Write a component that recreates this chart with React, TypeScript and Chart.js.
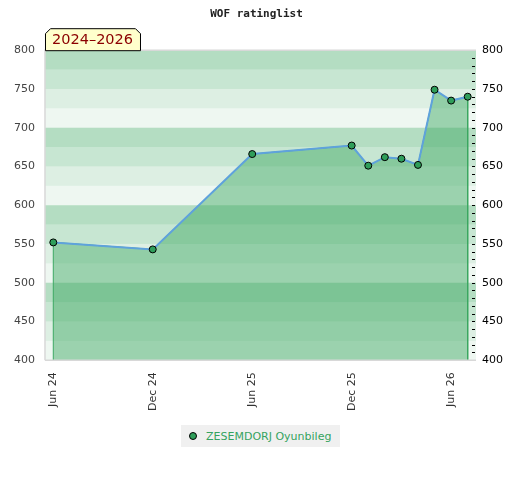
import React, { useEffect, useRef } from "react";
import { Chart, registerables } from "chart.js";

Chart.register(...registerables);

// months counted from Jun 2024 (0)
const months = [0, 6, 12, 18, 19, 20, 21, 22, 23, 24, 25];
const ratings = [552, 543, 666, 677, 651, 662, 660, 652, 749, 735, 740];
const tickMonths = [0, 6, 12, 18, 24];
const tickLabels = ["Jun 24", "Dec 24", "Jun 25", "Dec 25", "Jun 26"];
const playerName = "ZESEMDORJ Oyunbileg";
const chartTitle = "WOF ratinglist";
const periodLabel = "2024–2026";
const yMin = 400;
const yMax = 800;

const bandColors = [
  "rgba(61,167,98,0.39)",
  "rgba(61,167,98,0.285)",
  "rgba(61,167,98,0.175)",
  "rgba(61,167,98,0.088)",
];

const decorPlugin = {
  id: "decor",
  beforeDatasetsDraw(chart: any) {
    const { ctx, chartArea } = chart;
    const y = chart.scales.y;
    ctx.save();
    for (let v = yMax; v > yMin; v -= 25) {
      const idx = ((yMax - v) / 25) % 4;
      const top = y.getPixelForValue(v);
      const bot = y.getPixelForValue(v - 25);
      ctx.fillStyle = bandColors[idx];
      ctx.fillRect(chartArea.left, top, chartArea.right - chartArea.left, bot - top);
    }
    ctx.restore();
  },
  afterDatasetsDraw(chart: any) {
    const { ctx, chartArea } = chart;
    const y = chart.scales.y;
    ctx.save();
    // border
    ctx.strokeStyle = "#d8d8d8";
    ctx.lineWidth = 1.5;
    ctx.beginPath();
    ctx.moveTo(chartArea.left, chartArea.bottom);
    ctx.lineTo(chartArea.left, chartArea.top);
    ctx.lineTo(chartArea.right, chartArea.top);
    ctx.moveTo(chartArea.left, chartArea.bottom);
    ctx.lineTo(chartArea.right, chartArea.bottom);
    ctx.stroke();
    // minor ticks on right edge
    ctx.strokeStyle = "#000";
    ctx.lineWidth = 1;
    for (let v = yMin + 10; v < yMax; v += 10) {
      const py = Math.round(y.getPixelForValue(v)) + 0.5;
      ctx.beginPath();
      ctx.moveTo(chartArea.right - 4, py);
      ctx.lineTo(chartArea.right - 1, py);
      ctx.stroke();
    }
    // period badge
    const l = chartArea.left + 0.5;
    const r = l + 95;
    const b = chartArea.top + 0.5;
    const t = b - 22;
    const c = 5;
    ctx.beginPath();
    ctx.moveTo(l, b);
    ctx.lineTo(l, t + c);
    ctx.lineTo(l + c, t);
    ctx.lineTo(r - c, t);
    ctx.lineTo(r, t + c);
    ctx.lineTo(r, b);
    ctx.closePath();
    ctx.fillStyle = "#ffffcc";
    ctx.fill();
    ctx.strokeStyle = "#000";
    ctx.stroke();
    ctx.fillStyle = "#8b0000";
    ctx.font = "14.5px 'DejaVu Sans'";
    ctx.textBaseline = "middle";
    ctx.textAlign = "left";
    ctx.fillText(periodLabel, l + 6.5, t + 12);
    ctx.restore();
  },
};

export default function App() {
  const ref = useRef<HTMLCanvasElement>(null);
  useEffect(() => {
    const points = months.map((m, i) => ({ x: m, y: ratings[i] }));
    const area = [
      { x: months[0], y: yMin },
      ...points,
      { x: months[months.length - 1], y: yMin },
    ];
    const chart = new Chart(ref.current as HTMLCanvasElement, {
      type: "line",
      data: {
        datasets: [
          {
            label: playerName,
            data: points,
            borderColor: "#5fa2dc",
            borderWidth: 2,
            pointBackgroundColor: "#2f9e5a",
            pointBorderColor: "#000",
            pointBorderWidth: 1,
            pointRadius: 3.5,
            fill: false,
            tension: 0,
            order: 0,
          },
          {
            label: "area",
            data: area,
            borderColor: "#3aa860",
            borderWidth: 1,
            backgroundColor: "rgba(61,167,98,0.47)",
            pointRadius: 0,
            fill: "start",
            tension: 0,
            order: 1,
          },
        ],
      },
      options: {
        animation: false,
        responsive: false,
        maintainAspectRatio: false,
        layout: { padding: { left: 4, right: 11, top: 0, bottom: 57 } },
        plugins: {
          legend: { display: false },
          tooltip: { enabled: false },
          title: {
            display: true,
            text: chartTitle,
            color: "#222",
            font: { family: "'DejaVu Sans Mono'", size: 11, weight: "bold" },
            padding: { top: 8, bottom: 29 },
          },
        },
        scales: {
          x: {
            type: "linear",
            min: -0.5,
            max: 25.5,
            grid: { display: false, drawTicks: false },
            border: { display: false },
            afterBuildTicks: (scale: any) => {
              scale.ticks = tickMonths.map((v) => ({ value: v }));
            },
            ticks: {
              minRotation: 90,
              maxRotation: 90,
              padding: 12,
              color: "#333",
              font: { family: "'DejaVu Sans'", size: 11 },
              callback: (v: any) => {
                const i = tickMonths.indexOf(Number(v));
                return i >= 0 ? tickLabels[i] : "";
              },
            },
          },
          y: {
            position: "left",
            min: yMin,
            max: yMax,
            grid: { display: false, drawTicks: false },
            border: { display: false },
            ticks: {
              stepSize: 50,
              padding: 10,
              color: "#444",
              font: { family: "'DejaVu Sans'", size: 11 },
            },
          },
          y2: {
            position: "right",
            min: yMin,
            max: yMax,
            grid: { display: false, drawTicks: false },
            border: { display: false },
            ticks: {
              stepSize: 50,
              padding: 6,
              color: "#000",
              font: { family: "'DejaVu Sans'", size: 11 },
            },
          },
        },
      },
      plugins: [decorPlugin],
    });
    return () => chart.destroy();
  }, []);

  return (
    <div style={{ position: "absolute", left: 0, top: 0, width: 520, height: 480 }}>
      <canvas ref={ref} width={520} height={480} style={{ width: 520, height: 480 }} />
      <div
        style={{
          position: "absolute",
          left: 181,
          top: 425,
          width: 159,
          height: 22,
          background: "#f0f0f0",
          display: "flex",
          alignItems: "center",
          whiteSpace: "nowrap",
          fontFamily: "'DejaVu Sans'",
          fontSize: 11,
          color: "#35a35f",
        }}
      >
        <span
          style={{
            display: "inline-block",
            width: 6,
            height: 6,
            borderRadius: "50%",
            background: "#2f9e5a",
            border: "1px solid #000",
            marginLeft: 8,
            marginRight: 9,
          }}
        />
        <span>{playerName}</span>
      </div>
    </div>
  );
}
